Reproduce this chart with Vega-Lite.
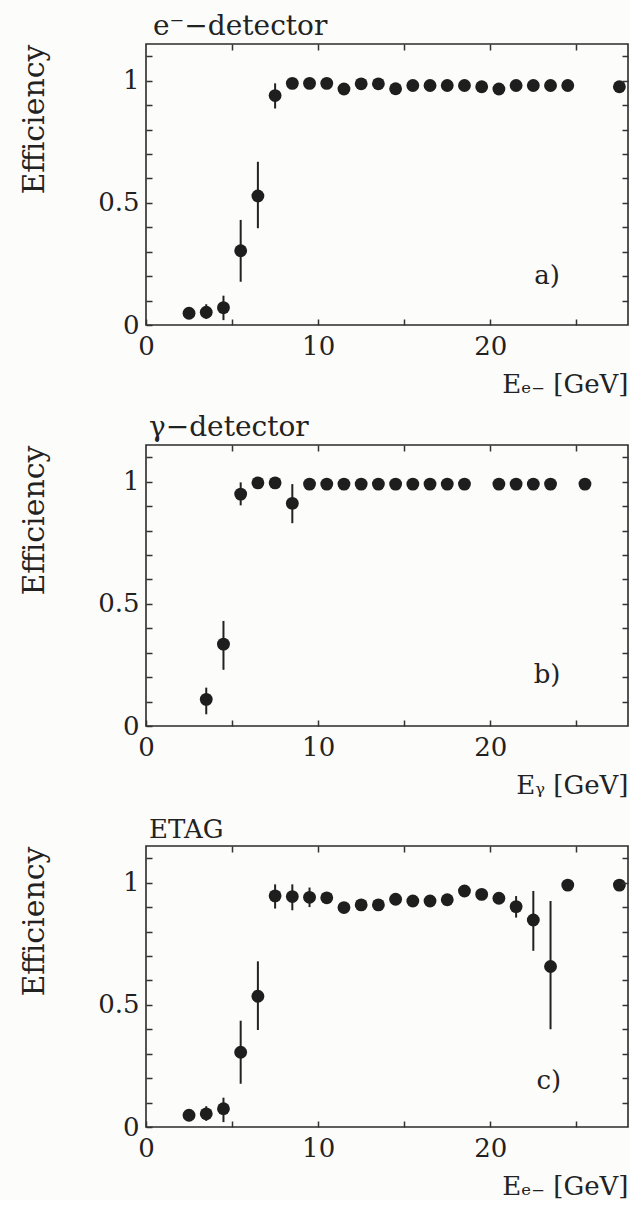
{
  "$schema": "https://vega.github.io/schema/vega-lite/v6.json",
  "background": "#fcfcfb",
  "padding": {"left": 18, "top": 12, "right": 0, "bottom": 0},
  "spacing": 120,
  "bounds": "flush",
  "config": {
    "font": "DejaVu Serif",
    "view": {"stroke": "#2a2a2a", "strokeWidth": 1.6},
    "axis": {
      "domain": false, "grid": false, "ticks": true, "zindex": 1,
      "labelFont": "DejaVu Serif", "titleFont": "DejaVu Serif",
      "labelFontSize": 26, "titleFontSize": 26, "titleFontWeight": "normal",
      "labelColor": "#222", "titleColor": "#222",
      "tickColor": "#333", "tickWidth": 1.5,
      "labelFlush": false, "labelOverlap": false
    },
    "title": {"font": "DejaVu Serif", "fontSize": 28, "fontWeight": "normal", "color": "#222", "anchor": "start", "frame": "group"}
  },
  "datasets": {
    "a": [
      {"x": 2.5, "y": 0.048, "lo": 0.035, "hi": 0.062},
      {"x": 3.5, "y": 0.052, "lo": 0.025, "hi": 0.085},
      {"x": 4.5, "y": 0.071, "lo": 0.02, "hi": 0.12},
      {"x": 5.5, "y": 0.304, "lo": 0.177, "hi": 0.43},
      {"x": 6.5, "y": 0.528, "lo": 0.396, "hi": 0.668},
      {"x": 7.5, "y": 0.939, "lo": 0.886, "hi": 0.989},
      {"x": 8.5, "y": 0.989},
      {"x": 9.5, "y": 0.989},
      {"x": 10.5, "y": 0.989},
      {"x": 11.5, "y": 0.966},
      {"x": 12.5, "y": 0.987},
      {"x": 13.5, "y": 0.987},
      {"x": 14.5, "y": 0.967},
      {"x": 15.5, "y": 0.98},
      {"x": 16.5, "y": 0.98},
      {"x": 17.5, "y": 0.98},
      {"x": 18.5, "y": 0.98},
      {"x": 19.5, "y": 0.975},
      {"x": 20.5, "y": 0.966},
      {"x": 21.5, "y": 0.98},
      {"x": 22.5, "y": 0.98},
      {"x": 23.5, "y": 0.98},
      {"x": 24.5, "y": 0.98},
      {"x": 27.5, "y": 0.975}
    ],
    "b": [
      {"x": 3.5, "y": 0.109, "lo": 0.048, "hi": 0.157},
      {"x": 4.5, "y": 0.335, "lo": 0.23, "hi": 0.43},
      {"x": 5.5, "y": 0.949, "lo": 0.903, "hi": 0.997},
      {"x": 6.5, "y": 0.995},
      {"x": 7.5, "y": 0.995},
      {"x": 8.5, "y": 0.911, "lo": 0.83, "hi": 0.99},
      {"x": 9.5, "y": 0.99},
      {"x": 10.5, "y": 0.99},
      {"x": 11.5, "y": 0.99},
      {"x": 12.5, "y": 0.99},
      {"x": 13.5, "y": 0.99},
      {"x": 14.5, "y": 0.99},
      {"x": 15.5, "y": 0.99},
      {"x": 16.5, "y": 0.99},
      {"x": 17.5, "y": 0.99},
      {"x": 18.5, "y": 0.99},
      {"x": 20.5, "y": 0.99},
      {"x": 21.5, "y": 0.99},
      {"x": 22.5, "y": 0.99},
      {"x": 23.5, "y": 0.99},
      {"x": 25.5, "y": 0.99}
    ],
    "c": [
      {"x": 2.5, "y": 0.048, "lo": 0.035, "hi": 0.062},
      {"x": 3.5, "y": 0.054, "lo": 0.025, "hi": 0.085},
      {"x": 4.5, "y": 0.075, "lo": 0.02, "hi": 0.12},
      {"x": 5.5, "y": 0.306, "lo": 0.177, "hi": 0.435},
      {"x": 6.5, "y": 0.535, "lo": 0.397, "hi": 0.678},
      {"x": 7.5, "y": 0.946, "lo": 0.894, "hi": 0.993},
      {"x": 8.5, "y": 0.943, "lo": 0.887, "hi": 0.993},
      {"x": 9.5, "y": 0.94, "lo": 0.9, "hi": 0.98},
      {"x": 10.5, "y": 0.938},
      {"x": 11.5, "y": 0.898},
      {"x": 12.5, "y": 0.909},
      {"x": 13.5, "y": 0.909},
      {"x": 14.5, "y": 0.932},
      {"x": 15.5, "y": 0.925},
      {"x": 16.5, "y": 0.925},
      {"x": 17.5, "y": 0.93},
      {"x": 18.5, "y": 0.966},
      {"x": 19.5, "y": 0.952},
      {"x": 20.5, "y": 0.936},
      {"x": 21.5, "y": 0.902, "lo": 0.857, "hi": 0.945},
      {"x": 22.5, "y": 0.847, "lo": 0.721, "hi": 0.966},
      {"x": 23.5, "y": 0.657, "lo": 0.4, "hi": 0.925},
      {"x": 24.5, "y": 0.99},
      {"x": 27.5, "y": 0.99}
    ]
  },
  "vconcat": [
    {
      "width": 482, "height": 281,
      "title": {"text": "e⁻−detector", "dx": 7, "offset": 2},
      "layer": [
        {
          "data": {"name": "a"},
          "transform": [{"filter": "datum.lo != null"}],
          "mark": {"type": "rule", "color": "#222", "strokeWidth": 2},
          "encoding": {
            "x": {"field": "x", "type": "quantitative", "scale": {"domain": [0, 28], "nice": false, "zero": false},
                  "axis": {"values": [0, 5, 10, 15, 20, 25], "format": "~g", "labelExpr": "datum.value % 10 === 0 ? datum.label : ''", "ticks": true, "zindex": 1, "tickColor": "#333", "tickWidth": 1.5, "tickOpacity": 1, "tickSize": -6, "labelPadding": 14, "title": "Eₑ₋  [GeV]", "titleAnchor": "end", "titlePadding": 12}},
            "y": {"field": "lo", "type": "quantitative", "scale": {"domain": [0, 1.15], "nice": false, "zero": false},
                  "axis": {"values": [0, 0.1, 0.2, 0.3, 0.4, 0.5, 0.6, 0.7, 0.8, 0.9, 1, 1.1], "format": "~g", "labelExpr": "(datum.value === 0 || datum.value === 0.5 || datum.value === 1) ? datum.label : ''", "ticks": true, "zindex": 1, "tickColor": "#333", "tickWidth": 1.5, "tickOpacity": 1, "tickSize": -6, "labelPadding": 13, "title": "Efficiency", "titleFontSize": 30, "titleAnchor": "end", "titlePadding": 48}},
            "y2": {"field": "hi"}
          }
        },
        {
          "data": {"name": "a"},
          "mark": {"type": "circle", "size": 165, "color": "#1e1e1e", "opacity": 1},
          "encoding": {
            "x": {"field": "x", "type": "quantitative", "axis": {"orient": "top", "values": [5, 10, 15, 20, 25], "labels": false, "title": null, "ticks": true, "zindex": 1, "tickColor": "#333", "tickWidth": 1.5, "tickOpacity": 1, "tickSize": -6}},
            "y": {"field": "y", "type": "quantitative", "axis": {"orient": "right", "values": [0.1, 0.2, 0.3, 0.4, 0.5, 0.6, 0.7, 0.8, 0.9, 1, 1.1], "labels": false, "title": null, "ticks": true, "zindex": 1, "tickColor": "#333", "tickWidth": 1.5, "tickOpacity": 1, "tickSize": -6}}
          }
        },
        {
          "data": {"values": [{"label": "a)"}]},
          "mark": {"type": "text", "fontSize": 26, "color": "#222", "font": "DejaVu Serif"},
          "encoding": {
            "x": {"datum": 23.3, "type": "quantitative", "axis": null},
            "y": {"datum": 0.2, "type": "quantitative", "axis": null},
            "text": {"field": "label"}
          }
        }
      ],
      "resolve": {"axis": {"x": "independent", "y": "independent"}}
    },
    {
      "width": 482, "height": 281,
      "title": {"text": "γ−detector", "dx": 3, "offset": 2},
      "layer": [
        {
          "data": {"name": "b"},
          "transform": [{"filter": "datum.lo != null"}],
          "mark": {"type": "rule", "color": "#222", "strokeWidth": 2},
          "encoding": {
            "x": {"field": "x", "type": "quantitative", "scale": {"domain": [0, 28], "nice": false, "zero": false},
                  "axis": {"values": [0, 5, 10, 15, 20, 25], "format": "~g", "labelExpr": "datum.value % 10 === 0 ? datum.label : ''", "ticks": true, "zindex": 1, "tickColor": "#333", "tickWidth": 1.5, "tickOpacity": 1, "tickSize": -6, "labelPadding": 14, "title": "Eᵧ  [GeV]", "titleAnchor": "end", "titlePadding": 12}},
            "y": {"field": "lo", "type": "quantitative", "scale": {"domain": [0, 1.15], "nice": false, "zero": false},
                  "axis": {"values": [0, 0.1, 0.2, 0.3, 0.4, 0.5, 0.6, 0.7, 0.8, 0.9, 1, 1.1], "format": "~g", "labelExpr": "(datum.value === 0 || datum.value === 0.5 || datum.value === 1) ? datum.label : ''", "ticks": true, "zindex": 1, "tickColor": "#333", "tickWidth": 1.5, "tickOpacity": 1, "tickSize": -6, "labelPadding": 13, "title": "Efficiency", "titleFontSize": 30, "titleAnchor": "end", "titlePadding": 48}},
            "y2": {"field": "hi"}
          }
        },
        {
          "data": {"name": "b"},
          "mark": {"type": "circle", "size": 165, "color": "#1e1e1e", "opacity": 1},
          "encoding": {
            "x": {"field": "x", "type": "quantitative", "axis": {"orient": "top", "values": [5, 10, 15, 20, 25], "labels": false, "title": null, "ticks": true, "zindex": 1, "tickColor": "#333", "tickWidth": 1.5, "tickOpacity": 1, "tickSize": -6}},
            "y": {"field": "y", "type": "quantitative", "axis": {"orient": "right", "values": [0.1, 0.2, 0.3, 0.4, 0.5, 0.6, 0.7, 0.8, 0.9, 1, 1.1], "labels": false, "title": null, "ticks": true, "zindex": 1, "tickColor": "#333", "tickWidth": 1.5, "tickOpacity": 1, "tickSize": -6}}
          }
        },
        {
          "data": {"values": [{"label": "b)"}]},
          "mark": {"type": "text", "fontSize": 26, "color": "#222", "font": "DejaVu Serif"},
          "encoding": {
            "x": {"datum": 23.3, "type": "quantitative", "axis": null},
            "y": {"datum": 0.21, "type": "quantitative", "axis": null},
            "text": {"field": "label"}
          }
        }
      ],
      "resolve": {"axis": {"x": "independent", "y": "independent"}}
    },
    {
      "width": 482, "height": 281,
      "title": {"text": "ETAG", "dx": 3, "offset": 2, "fontSize": 26},
      "layer": [
        {
          "data": {"name": "c"},
          "transform": [{"filter": "datum.lo != null"}],
          "mark": {"type": "rule", "color": "#222", "strokeWidth": 2},
          "encoding": {
            "x": {"field": "x", "type": "quantitative", "scale": {"domain": [0, 28], "nice": false, "zero": false},
                  "axis": {"values": [0, 5, 10, 15, 20, 25], "format": "~g", "labelExpr": "datum.value % 10 === 0 ? datum.label : ''", "ticks": true, "zindex": 1, "tickColor": "#333", "tickWidth": 1.5, "tickOpacity": 1, "tickSize": -6, "labelPadding": 14, "title": "Eₑ₋  [GeV]", "titleAnchor": "end", "titlePadding": 12}},
            "y": {"field": "lo", "type": "quantitative", "scale": {"domain": [0, 1.15], "nice": false, "zero": false},
                  "axis": {"values": [0, 0.1, 0.2, 0.3, 0.4, 0.5, 0.6, 0.7, 0.8, 0.9, 1, 1.1], "format": "~g", "labelExpr": "(datum.value === 0 || datum.value === 0.5 || datum.value === 1) ? datum.label : ''", "ticks": true, "zindex": 1, "tickColor": "#333", "tickWidth": 1.5, "tickOpacity": 1, "tickSize": -6, "labelPadding": 13, "title": "Efficiency", "titleFontSize": 30, "titleAnchor": "end", "titlePadding": 48}},
            "y2": {"field": "hi"}
          }
        },
        {
          "data": {"name": "c"},
          "mark": {"type": "circle", "size": 165, "color": "#1e1e1e", "opacity": 1},
          "encoding": {
            "x": {"field": "x", "type": "quantitative", "axis": {"orient": "top", "values": [5, 10, 15, 20, 25], "labels": false, "title": null, "ticks": true, "zindex": 1, "tickColor": "#333", "tickWidth": 1.5, "tickOpacity": 1, "tickSize": -6}},
            "y": {"field": "y", "type": "quantitative", "axis": {"orient": "right", "values": [0.1, 0.2, 0.3, 0.4, 0.5, 0.6, 0.7, 0.8, 0.9, 1, 1.1], "labels": false, "title": null, "ticks": true, "zindex": 1, "tickColor": "#333", "tickWidth": 1.5, "tickOpacity": 1, "tickSize": -6}}
          }
        },
        {
          "data": {"values": [{"label": "c)"}]},
          "mark": {"type": "text", "fontSize": 26, "color": "#222", "font": "DejaVu Serif"},
          "encoding": {
            "x": {"datum": 23.4, "type": "quantitative", "axis": null},
            "y": {"datum": 0.19, "type": "quantitative", "axis": null},
            "text": {"field": "label"}
          }
        }
      ],
      "resolve": {"axis": {"x": "independent", "y": "independent"}}
    }
  ]
}
